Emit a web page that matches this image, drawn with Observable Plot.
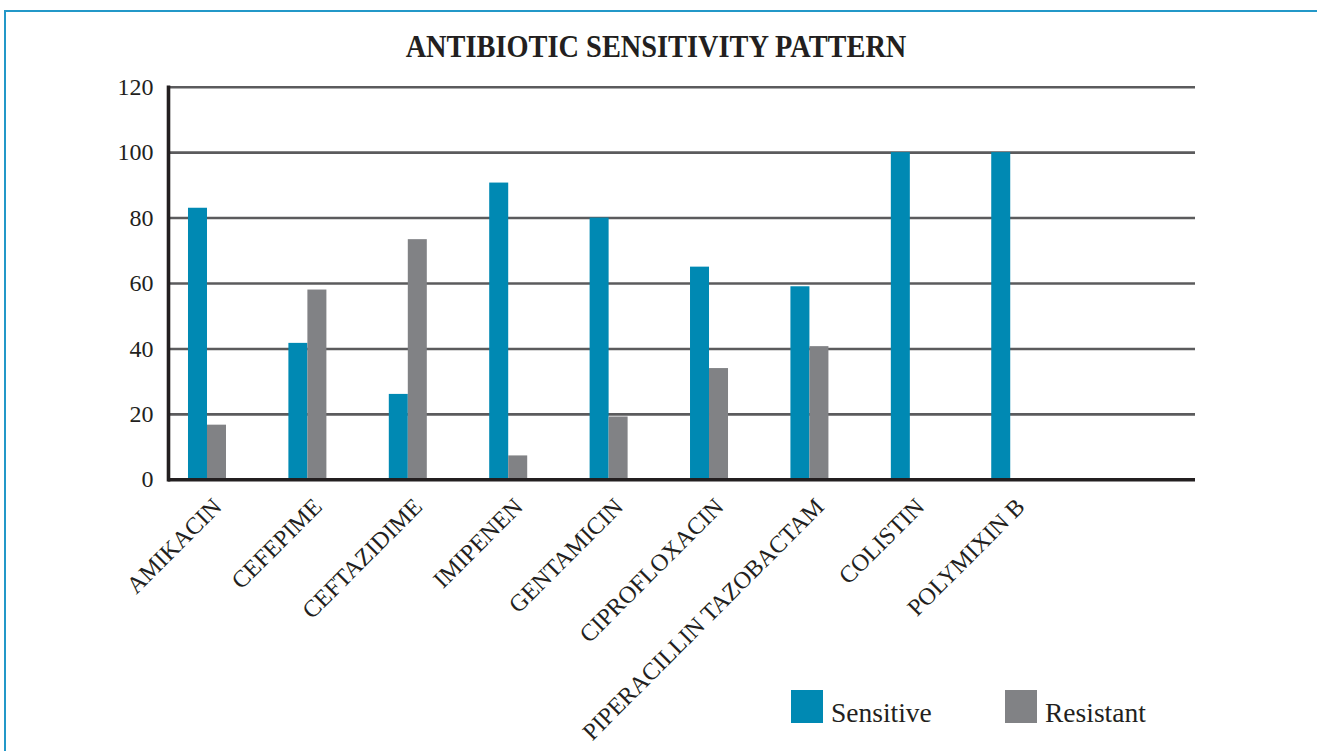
<!DOCTYPE html>
<html>
<head>
<meta charset="utf-8">
<script src="https://cdn.jsdelivr.net/npm/d3@7"></script>
<script src="https://cdn.jsdelivr.net/npm/@observablehq/plot@0.6"></script>
<style>
  html, body { margin: 0; padding: 0; background: #ffffff; overflow: hidden; width: 1317px; height: 751px; }
  #wrap { position: relative; width: 1317px; height: 751px; }
  #chart { position: absolute; left: 0; top: 0; }
  #border { position: absolute; left: 4px; top: 10px; width: 1400px; height: 800px;
            border-left: 2.5px solid #2398c8; border-top: 2.5px solid #2398c8; pointer-events: none; }
  .title { position: absolute; left: 356px; width: 600px; top: 30.7px; text-align: center;
           font-family: "Liberation Serif", serif; font-weight: bold; font-size: 31px; line-height: 31px;
           transform: scaleX(0.915); transform-origin: 300px 0; color: #231f20; white-space: nowrap; }
  .sw { position: absolute; width: 32px; height: 33px; top: 690px; }
  .lt { position: absolute; top: 699px; font-family: "Liberation Serif", serif; font-size: 27.5px;
        line-height: 27.5px; color: #231f20; white-space: nowrap; }
</style>
</head>
<body>
<div id="wrap">
  <div id="chart"></div>
  <div class="title">ANTIBIOTIC SENSITIVITY PATTERN</div>
  <div class="sw" style="left:791px;background:#0089b3"></div>
  <div class="lt" style="left:831px">Sensitive</div>
  <div class="sw" style="left:1005px;background:#818285"></div>
  <div class="lt" style="left:1045px">Resistant</div>
  <div id="border"></div>
</div>
<script>
// ---- data ----
const drugs = ["AMIKACIN", "CEFEPIME", "CEFTAZIDIME", "IMIPENEN", "GENTAMICIN",
               "CIPROFLOXACIN", "PIPERACILLIN TAZOBACTAM", "COLISTIN", "POLYMIXIN B"];
const sensitive = [83, 41.7, 26.1, 90.7, 80, 65, 59, 100, 100];
const resistant = [16.7, 58, 73.4, 7.3, 19.2, 34, 40.7, 0, 0];
const yTicks = [0, 20, 40, 60, 80, 100, 120];

const sensData = drugs.map((d, i) => ({drug: d, value: sensitive[i]}));
const resData = drugs.map((d, i) => ({drug: d, value: resistant[i]}));

const blue = "#0089b3";
const gray = "#818285";
const ink = "#231f20";

const chart = Plot.plot({
  width: 1317,
  height: 751,
  marginLeft: 168,
  marginRight: 122,
  marginTop: 86.7,
  marginBottom: 271.7,
  style: {fontFamily: "Liberation Serif, serif", color: ink, background: "transparent"},
  x: {domain: drugs, paddingInner: 0.6215, paddingOuter: 0.925, align: 0.1076, round: false, label: null},
  y: {domain: [0, 120], label: null},
  marks: [
    Plot.ruleY(yTicks.filter(t => t > 0), {stroke: "#5b5b5d", strokeWidth: 2.6}),
    Plot.barY(sensData, {x: "drug", y: "value", fill: blue, insetRight: 19}),
    Plot.barY(resData, {x: "drug", y: "value", fill: gray, insetLeft: 19}),
    Plot.ruleY([0], {stroke: ink, strokeWidth: 3.6}),
    Plot.frame({anchor: "left", stroke: ink, strokeWidth: 3.6}),
    Plot.axisY({ticks: yTicks, tickSize: 0, tickPadding: 15, fontSize: 24, label: null, fill: ink}),
    Plot.axisX({tickRotate: -45, tickSize: 0, tickPadding: 17, fontSize: 24, label: null, fill: ink, dx: 10, dy: 6})
  ]
});
document.getElementById("chart").appendChild(chart);
</script>
</body>
</html>
